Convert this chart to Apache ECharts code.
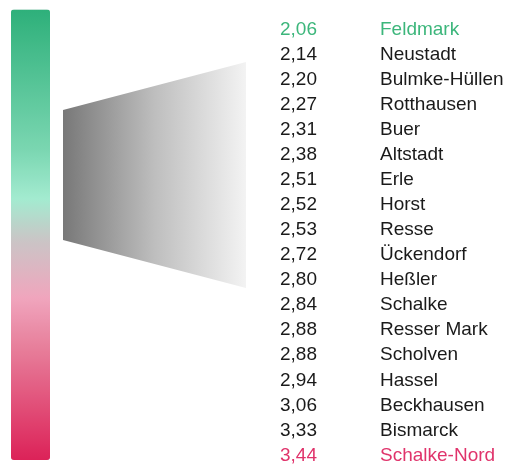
<!DOCTYPE html>
<html><head><meta charset="utf-8">
<script src="https://cdn.jsdelivr.net/npm/echarts@6/dist/echarts.min.js"></script>
<style>html,body{margin:0;padding:0;background:#fff}#c{width:507px;height:468px}</style>
</head><body><div id="c"></div>
<script>
const districts = ['Feldmark','Neustadt','Bulmke-Hüllen','Rotthausen','Buer','Altstadt','Erle','Horst','Resse','Ückendorf','Heßler','Schalke','Resser Mark','Scholven','Hassel','Beckhausen','Bismarck','Schalke-Nord'];
const values = [2.06,2.14,2.20,2.27,2.31,2.38,2.51,2.52,2.53,2.72,2.80,2.84,2.88,2.88,2.94,3.06,3.33,3.44];
// colour-scale stops, bottom (0) to top (1)
const scaleStops = [0, 0.25, 0.36, 0.49, 0.58, 0.69, 1];
const scaleColors = ['#dc2258','#e77f9b','#f0a5bd','#c9c6c6','#a3ebd0','#7ad6b1','#2eb07a'];

function colorAt(t) {
  for (let i = 1; i < scaleStops.length; i++) {
    if (t <= scaleStops[i]) {
      const f = (t - scaleStops[i-1]) / (scaleStops[i] - scaleStops[i-1]);
      return echarts.color.lerp(f, [scaleColors[i-1], scaleColors[i]]);
    }
  }
  return scaleColors[scaleColors.length - 1];
}
const palette = [];
for (let k = 0; k <= 100; k++) palette.push(colorAt(k / 100));

const chart = echarts.init(document.getElementById('c'));
const minV = Math.min(...values), maxV = Math.max(...values);
const fmt = v => v.toFixed(2).replace('.', ',');
const FF = '"Liberation Sans", Arial, sans-serif';
const rich = {};
[['b', '#1a1a1a'], ['g', '#3cb67b'], ['r', '#e0336b']].forEach(([k, c]) => {
  rich[k + 'v'] = {width: 100, color: c, fontSize: 19, fontFamily: FF};
  rich[k] = {color: c, fontSize: 19, fontFamily: FF};
});
chart.setOption({
  animation: false,
  grid: {left: 280, right: 0, top: 17, bottom: 0},
  xAxis: {type: 'value', min: 0, max: 1, show: false},
  yAxis: {type: 'category', data: districts, inverse: true, show: false},
  visualMap: {
    type: 'continuous', min: minV, max: maxV, seriesIndex: 1,
    left: 11, top: 9.5, itemWidth: 39, itemHeight: 450.5,
    text: null, showLabel: false, calculable: false, realtime: false, hoverLink: false,
    inRange: {color: palette},
    padding: 0, borderWidth: 0
  },
  graphic: [{
    type: 'polygon',
    shape: {points: [[63, 110], [246, 62], [246, 288], [63, 240]]},
    style: {fill: new echarts.graphic.LinearGradient(0, 0, 1, 0, [
      {offset: 0, color: '#787878'}, {offset: 0.5, color: '#bebebe'}, {offset: 1, color: '#f3f3f3'}])}
  }],
  series: [{
    type: 'scatter', symbolSize: 0, silent: true,
    itemStyle: {opacity: 1},
    data: districts.map((d, i) => [0, d, values[i]]),
    label: {
      show: true, position: 'right', distance: 0, opacity: 1,
      fontFamily: FF, fontSize: 19,
      formatter: p => {
        const i = p.dataIndex;
        const k = i === 0 ? 'g' : (i === districts.length - 1 ? 'r' : 'b');
        return '{' + k + 'v|' + fmt(values[i]) + '}{' + k + '|' + districts[i] + '}';
      },
      rich: rich
    }
  }, {
    type: 'scatter', symbolSize: 0, silent: true, data: []
  }]
});
</script></body></html>
